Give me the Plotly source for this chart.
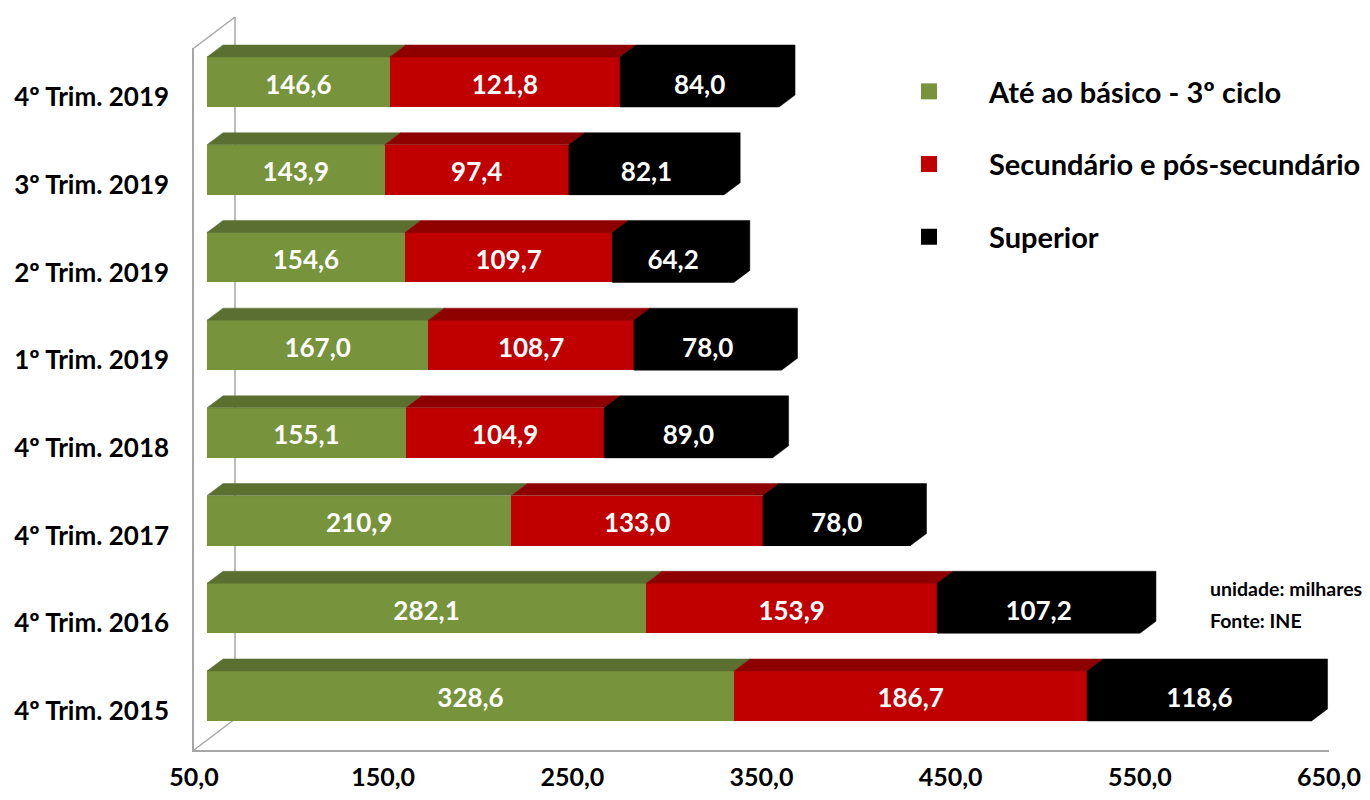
import plotly.graph_objects as go

# dados (milhares) - de baixo para cima
periodos = ["4º Trim. 2015", "4º Trim. 2016", "4º Trim. 2017", "4º Trim. 2018",
            "1º Trim. 2019", "2º Trim. 2019", "3º Trim. 2019", "4º Trim. 2019"]
basico = [328.6, 282.1, 210.9, 155.1, 167.0, 154.6, 143.9, 146.6]
secundario = [186.7, 153.9, 133.0, 104.9, 108.7, 109.7, 97.4, 121.8]
superior = [118.6, 107.2, 78.0, 89.0, 78.0, 64.2, 82.1, 84.0]
nomes = ["Até ao básico - 3º ciclo", "Secundário e pós-secundário", "Superior"]
x_ticks = [50, 150, 250, 350, 450, 550, 650]

# a página tem 8px de margem no body: a figura ocupa 1354x784
PAD = 8
W, H = 1370 - 2 * PAD, 800 - 2 * PAD
FONT = "Lato"
cores = ["#77933c", "#c00000", "#000000"]
cores_topo = ["#5b7030", "#8e0000", "#000000"]
cor_parede = "#a6a6a6"


def xp(x):
    return (x - PAD) / W


def yp(y):
    return 1 - (y - PAD) / H


X0, X1 = 50, 650
# plano da frente (px na janela)
fx0, fx1 = 194, 1329
fy_top, fy_bot = 48, 750
y_lo, y_hi = -0.445, 7.559
# barras ficam um pouco atrás do plano da frente
off_x, off_y = 13, -15
# profundidade da face superior / lateral
prof_px_x, prof_px_y = 16, 12
parede_x, parede_y = 41, -31

px_x = (fx1 - fx0) / (X1 - X0)
px_y = (fy_bot - fy_top) / (y_hi - y_lo)
dx = prof_px_x / px_x
dy = prof_px_y / px_y
larg = 0.57
desce_txt = 5 / px_y  # rótulos ligeiramente abaixo do centro, como no Excel

pos = list(range(len(periodos)))
series = [basico, secundario, superior]

inicio = []
fim = []
acum = [0.0] * len(pos)
for s in series:
    inicio.append(list(acum))
    acum = [a + v for a, v in zip(acum, s)]
    fim.append(list(acum))

fig = go.Figure()

# faces da frente
for k, s in enumerate(series):
    fig.add_trace(go.Bar(
        x=s, y=pos, orientation="h", width=larg,
        marker=dict(color=cores[k], line=dict(width=0)),
        xaxis="x2", yaxis="y2", showlegend=False, hoverinfo="skip"
    ))

# faces superiores; a última série leva também a face lateral
ultima = len(series) - 1
for k in range(len(series)):
    xs, ys = [], []
    for i, p in enumerate(pos):
        a = max(inicio[k][i], X0)
        b = fim[k][i]
        yt = p + larg / 2
        yb = p - larg / 2
        if k == ultima:
            xs += [a, b, b + dx, b + dx, a + dx, a, a, None]
            ys += [yb, yb, yb + dy, yt + dy, yt + dy, yt, yb, None]
        else:
            xs += [a, b, b + dx, a + dx, a, None]
            ys += [yt, yt, yt + dy, yt + dy, yt, None]
    fig.add_trace(go.Scatter(
        x=xs, y=ys, mode="lines", fill="toself",
        fillcolor=cores_topo[k], line=dict(color=cores_topo[k], width=0.5),
        xaxis="x2", yaxis="y2", showlegend=False, hoverinfo="skip"
    ))

# rótulos de dados
tx, ty, tt = [], [], []
for k, s in enumerate(series):
    for i, p in enumerate(pos):
        tx.append((max(inicio[k][i], X0) + fim[k][i]) / 2)
        ty.append(p - desce_txt)
        tt.append(f"{s[i]:.1f}".replace(".", ","))
fig.add_trace(go.Scatter(
    x=tx, y=ty, text=tt, mode="text",
    textfont=dict(family=FONT, size=26, color="white", weight="bold"),
    xaxis="x2", yaxis="y2", showlegend=False, hoverinfo="skip"
))

# legenda
for k, nome in enumerate(nomes):
    fig.add_trace(go.Scatter(
        x=[None], y=[None], mode="markers", name=nome, legendgroup=nome,
        marker=dict(symbol="square", size=17, color=cores[k])
    ))

# paredes
wx0, wx1 = xp(fx0), xp(fx0 + parede_x)
linha = dict(color=cor_parede, width=1.5)
shapes = [
    dict(type="line", xref="paper", yref="paper", layer="below", line=linha,
         x0=wx0, y0=yp(fy_top), x1=wx1, y1=yp(fy_top + parede_y)),
    dict(type="line", xref="paper", yref="paper", layer="below", line=linha,
         x0=wx1, y0=yp(fy_top + parede_y), x1=wx1, y1=yp(fy_bot + parede_y)),
    dict(type="line", xref="paper", yref="paper", layer="below", line=linha,
         x0=wx0, y0=yp(fy_bot), x1=wx1, y1=yp(fy_bot + parede_y)),
]

fig.update_layout(
    width=W, height=H,
    margin=dict(l=0, r=0, t=0, b=0, autoexpand=False),
    paper_bgcolor="white", plot_bgcolor="rgba(0,0,0,0)",
    barmode="stack", separators=",.",
    font=dict(family=FONT, color="black"),
    shapes=shapes,
    xaxis=dict(domain=[xp(fx0), xp(fx1)], range=[X0, X1], anchor="y", automargin=False,
               tickvals=x_ticks, tickformat=".1f", showgrid=False, zeroline=False,
               showline=True, linecolor=cor_parede, linewidth=1.5,
               ticklabelstandoff=4,
               tickfont=dict(family=FONT, size=25, color="black", weight="bold")),
    yaxis=dict(domain=[yp(fy_bot), yp(fy_top)], range=[y_lo, y_hi], anchor="x",
               automargin=False,
               tickvals=pos, ticktext=periodos, showgrid=False, zeroline=False,
               showline=True, linecolor=cor_parede, linewidth=1.5,
               ticklabelstandoff=18,
               tickfont=dict(family=FONT, size=26, color="black", weight="bold")),
    xaxis2=dict(domain=[xp(fx0 + off_x), xp(fx1 + off_x)], range=[X0, X1],
                anchor="y2", visible=False, automargin=False),
    yaxis2=dict(domain=[yp(fy_bot + off_y), yp(fy_top + off_y)],
                range=[y_lo, y_hi], anchor="x2", visible=False, automargin=False),
    legend=dict(x=xp(869), y=yp(66), xanchor="left", yanchor="top",
                itemwidth=110, itemsizing="trace", tracegroupgap=32,
                traceorder="grouped", bgcolor="rgba(0,0,0,0)",
                font=dict(family=FONT, size=29, color="black", weight="bold")),
    annotations=[
        dict(text="unidade: milhares", xref="paper", yref="paper",
             x=xp(1208), y=yp(588), xanchor="left", yanchor="middle",
             showarrow=False, font=dict(family=FONT, size=19.5, weight="bold")),
        dict(text="Fonte: INE", xref="paper", yref="paper",
             x=xp(1208), y=yp(620), xanchor="left", yanchor="middle",
             showarrow=False, font=dict(family=FONT, size=19.5, weight="bold")),
    ],
)

fig.write_html("out.html")
